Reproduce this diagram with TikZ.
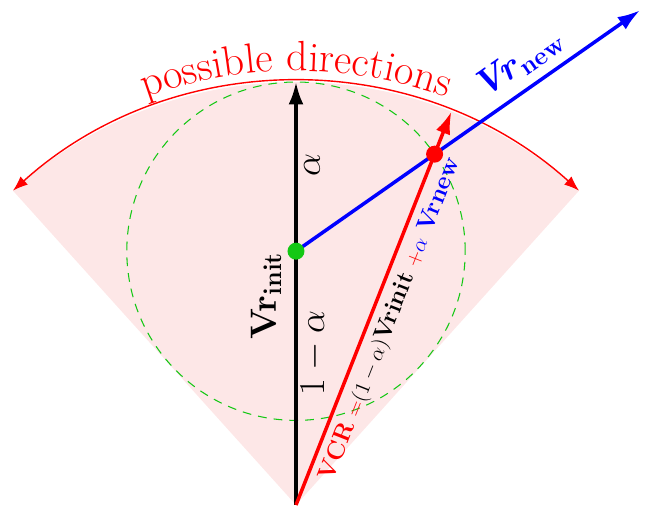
\documentclass[tikz,border=0pt]{standalone}
\usepackage{amsmath}
\usepackage{bm}
\usetikzlibrary{arrows.meta, decorations.text, math, calc}
\definecolor{wedgepink}{RGB}{253,231,231}
\definecolor{dotgreen}{RGB}{20,200,20}
\newcommand{\lblb}{\fontsize{14}{16}\selectfont}
\newcommand{\lblm}{\fontsize{12}{14}\selectfont}

\begin{document}
\begin{tikzpicture}[
 dot/.style={circle, inner sep=0pt, minimum size=#1},
 vec/.style={-{Latex[length=4.5mm,width=3mm]}, line width=2pt},
]

\tikzmath{
\R = 8.46;% max length
\al = 0.4;% alpha
\hw = 42;% half opening
\dn = 35;% new direction
\px = \al*\R*cos(\dn);
\py = (1-\al)*\R + \al*\R*sin(\dn);
\pl = sqrt(\px*\px + \py*\py);
}

\useasboundingbox (-5.92,-0.06) rectangle (7.06,10.10);

%possible directions
\fill[wedgepink] (0,0) -- ({90+\hw}:\R) arc({90+\hw}:{90-\hw}:\R) -- cycle;
\draw[dotgreen, line width=0.6pt, dash pattern=on 5pt off 4pt] (0,{(1-\al)*\R}) circle ({\al*\R});
\draw[red, line width=0.8pt, {Latex[length=3mm,width=2.2mm]}-{Latex[length=3mm,width=2.2mm]}] ({90+\hw}:\R) arc({90+\hw}:{90-\hw}:\R);
\path[decorate, decoration={text along path, text align=center,
 text={|\fontsize{24}{28}\selectfont\color{red}|possible directions}}] ({90+\hw}:{\R+0.22}) arc({90+\hw}:{90-\hw}:{\R+0.22});

\coordinate (O) at (0,0);
\coordinate (T) at (0,\R);
\coordinate (C0) at (0,{(1-\al)*\R});
\coordinate (B) at ($(C0)+(\dn:8.4)$);
\coordinate (E) at ({\R*\px/\pl},{\R*\py/\pl});

%vectors
\draw[vec, black] (O) -- (T);
\draw[vec, blue] (C0) -- (B)
 node[pos=0.69, sloped, above=2pt] {\huge\textbf{\itshape Vr}$_{\mathbf{new}}$};
\draw[vec, red] (O) -- (E)
 node[pos=0.49, sloped, below=3pt, inner sep=1pt, text=black] {\lblb\textcolor{red}{\textbf{VCR} {\lblm$=$}}{\lblm$(1-\alpha)$}\textbf{Vrinit}
 \textcolor{red}{\lblm$+$}\textcolor{blue}{{\lblm$\alpha$} \textbf{Vrnew}}};

%dots
\node[dot=0.34cm, fill=dotgreen] (C) at (C0) {};
\node[dot=0.34cm, fill=red] (P) at (\px,\py) {};

%labels
\node[rotate=90] (lin) at (-0.6,4.18) {\fontsize{22}{26}\selectfont $\mathbf{Vr}_{\mathbf{init}}$};
\node[rotate=90] (la) at (0.32,6.8) {\huge $\alpha$};
\node[rotate=90] (l1a) at (0.36,3.04) {\huge $1-\alpha$};

\end{tikzpicture}
\end{document}
